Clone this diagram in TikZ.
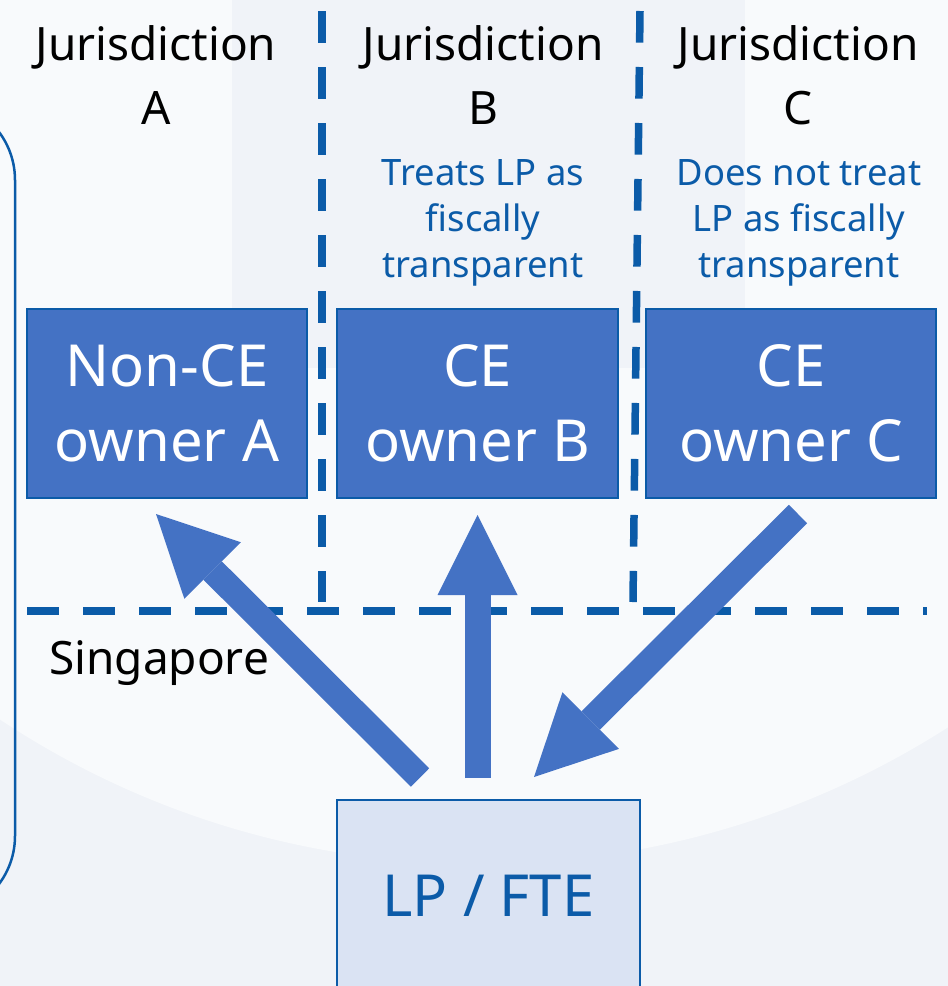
\documentclass[tikz,border=0pt]{standalone}
\usepackage{fontspec}
\setmainfont{Noto Sans}
\usetikzlibrary{arrows.meta,calc}
\definecolor{bgl}{HTML}{F8FAFC}
\definecolor{bgd}{HTML}{F0F3F8}
\definecolor{dblue}{HTML}{0B5BA8}
\definecolor{boxblue}{HTML}{4472C4}
\definecolor{lpfill}{HTML}{DAE3F3}
\begin{document}
\begin{tikzpicture}[x=1pt,y=-1pt,
  owner/.style={draw=dblue, line width=2pt, fill=boxblue, text=white, minimum height=189pt, inner sep=0pt, align=center, font=\fontsize{58}{75}\selectfont},
  divider/.style={draw=dblue, line width=7.5pt, dash pattern=on 31.7pt off 24.3pt},
  juris/.style={inner sep=0pt, align=center, font=\fontsize{46}{64}\selectfont, anchor=south},
  note/.style={inner sep=0pt, align=center, text=dblue, font=\fontsize{36.4}{46}\selectfont, anchor=north},
  bigarrow/.style={draw=boxblue, line width=26pt, -{Triangle[length=80pt,width=80pt,line width=0pt]}},
]
\useasboundingbox (0,0) rectangle (948,986);
\clip (0,0) rectangle (948,986);
% background
\fill[bgd] (0,0) rectangle (948,986);
\fill[bgl] (480,-5) circle[radius=869];
\fill[bgd] (232,0) rectangle (745,368);
% left frame
\draw[dblue, line width=2.5pt, rounded corners=80pt] (-200,100) -- (15,100) -- (15,916) -- (-200,916);
% dividers
\coordinate (v1t) at (322,11);
\coordinate (v1b) at (322,602);
\coordinate (v2t) at (640,11);
\coordinate (v2b) at (633,602);
\coordinate (hl) at (27,611);
\coordinate (hr) at (927,611);
\draw[divider] (v1t) -- (v1b);
\draw[divider] (v2t) -- (v2b);
\draw[divider] (hl) -- (hr);
% headings
\node[juris] (ja) at (156,125) {Jurisdiction\\A};
\node[juris] (jb) at (483,125) {Jurisdiction\\B};
\node[juris] (jc) at (798,125) {Jurisdiction\\C};
\node[note] (nb) at (483,159) {Treats LP as\\fiscally\\transparent};
\node[note] (nc) at (799,159) {Does not treat\\LP as fiscally\\transparent};
% boxes
\node[owner, minimum width=280pt] (a) at (167,403.5) {Non-CE\\owner A};
\node[owner, minimum width=281pt] (b) at (477.5,403.5) {CE\\owner B};
\node[owner, minimum width=290pt] (c) at (791,403.5) {CE\\owner C};
\node[draw=dblue, line width=2pt, fill=lpfill, text=dblue, minimum width=303pt, minimum height=192pt, inner sep=0pt, font=\fontsize{58}{70}\selectfont] (lp) at (488.5,896) {LP / FTE};
\node[inner sep=0pt, anchor=base west, font=\fontsize{46}{56}\selectfont] (sg) at (49,674) {Singapore};
% arrows
\coordinate (tailA) at (420,777.5);
\coordinate (tipA) at (156,514);
\coordinate (tailB) at (477.5,778);
\coordinate (tipB) at (477.5,515);
\coordinate (tailC) at (798,514);
\coordinate (tipC) at (534,777);
\draw[bigarrow] (tailA) -- (tipA);
\draw[bigarrow] (tailB) -- (tipB);
\draw[bigarrow] (tailC) -- (tipC);
\end{tikzpicture}
\end{document}
